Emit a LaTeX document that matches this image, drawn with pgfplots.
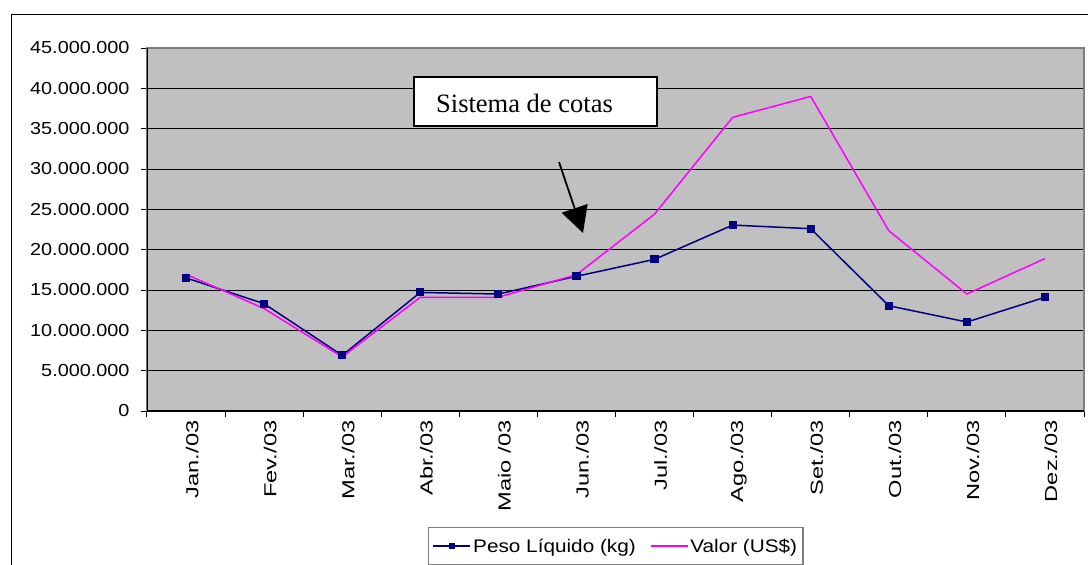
\documentclass[border=0pt]{standalone}
\usepackage{fontspec}
\setmainfont{Liberation Sans}
\newfontfamily\arialx{Liberation Sans}[FakeStretch=1.14]
\newfontfamily\arialxx{Liberation Sans}[FakeStretch=1.36]
\newfontfamily\timesf{Liberation Serif}
\usepackage{pgfplots}
\pgfplotsset{compat=1.18}
\usetikzlibrary{arrows.meta}
\definecolor{plotgray}{HTML}{C0C0C0}
\definecolor{navyc}{HTML}{000080}
\definecolor{magc}{HTML}{FF00FF}
\definecolor{framegray}{HTML}{808080}

\begin{document}
\begin{tikzpicture}
\path[use as bounding box] (0pt,0pt) rectangle (1088pt,-565pt);
\begin{scope}
\clip (0pt,0pt) rectangle (1088pt,-565pt);
\draw[line width=1.5pt] (11.5pt,-14.5pt) rectangle (1095pt,-640pt);
\begin{axis}[
  at={(147pt,-411pt)}, anchor=south west,
  scale only axis, width=937pt, height=363pt,
  xmin=0.5, xmax=12.5, ymin=0, ymax=45000000,
  xtick={1,2,3,4,5,6,7,8,9,10,11,12},
  xticklabels={Jan./03,Fev./03,Mar./03,Abr./03,Maio /03,Jun./03,Jul./03,Ago./03,Set./03,Out./03,Nov./03,Dez./03},
  major x tick style={draw=none},
  minor xtick={0.5,1.5,2.5,3.5,4.5,5.5,6.5,7.5,8.5,9.5,10.5,11.5,12.5},
  minor x tick style={black, line width=1pt},
  ytick={0,5000000,10000000,15000000,20000000,25000000,30000000,35000000,40000000,45000000},
  major y tick style={black, line width=1pt},
  tick align=outside, tick pos=left,
  major tick length=6pt, minor tick length=6pt,
  scaled y ticks=false,
  /pgf/number format/assume math mode=true,
  yticklabel style={/pgf/number format/fixed, /pgf/number format/1000 sep={.}, font=\arialx\fontsize{17.4}{20}\selectfont, anchor=east, xshift=-8pt},
  xticklabel style={rotate=90, anchor=east, font=\arialxx\fontsize{17.4}{20}\selectfont, yshift=-6pt},
  ymajorgrids, grid style={black, line width=0.9pt},
  axis background/.style={fill=plotgray},
  axis line style={draw=framegray, line width=1.6pt},
  legend columns=2,
  legend style={at={(0.2999,-0.3196)}, anchor=north west, draw=framegray, line width=1.4pt, fill=white,
    font=\arialx\fontsize{18.2}{20}\selectfont, inner xsep=4pt, inner ysep=9pt,
    /tikz/every even column/.append style={column sep=12pt}},
  legend image code/.code={\draw[mark repeat=2,mark phase=2,#1,mark size=2.5pt] plot coordinates {(0pt,0pt) (18.5pt,0pt) (37pt,0pt)};},
]
\addplot[navyc, line width=1.5pt, mark=square*, mark size=3.3pt, mark options={solid, fill=navyc}] coordinates {
 (1,16500000) (2,13300000) (3,6900000) (4,14700000) (5,14500000) (6,16700000)
 (7,18800000) (8,23050000) (9,22600000) (10,13050000) (11,11030000) (12,14100000)};
\addlegendentry{Peso Líquido (kg)}
\addplot[magc, line width=1.5pt] coordinates {
 (1,16950000) (2,12700000) (3,6700000) (4,14100000) (5,14100000) (6,16900000)
 (7,24400000) (8,36400000) (9,39000000) (10,22350000) (11,14500000) (12,18900000)};
\addlegendentry{Valor (US\$)}
\draw[black, line width=1.2pt] (rel axis cs:0,0) -- (rel axis cs:1,0);
\draw[black, line width=1.2pt] (rel axis cs:0,0) -- (rel axis cs:0,1);
\end{axis}
\draw[black, line width=2pt, fill=white] (414pt,-77pt) rectangle (657pt,-126pt);
\node[anchor=base, inner sep=0pt, font=\timesf\fontsize{26.5}{30}\selectfont] at (524.5pt,-112.7pt) {Sistema de cotas};
\draw[black, line width=1.8pt, -{Triangle[length=26pt,width=27pt]}] (559pt,-162pt) -- (583pt,-233pt);
\end{scope}
\end{tikzpicture}
\end{document}
